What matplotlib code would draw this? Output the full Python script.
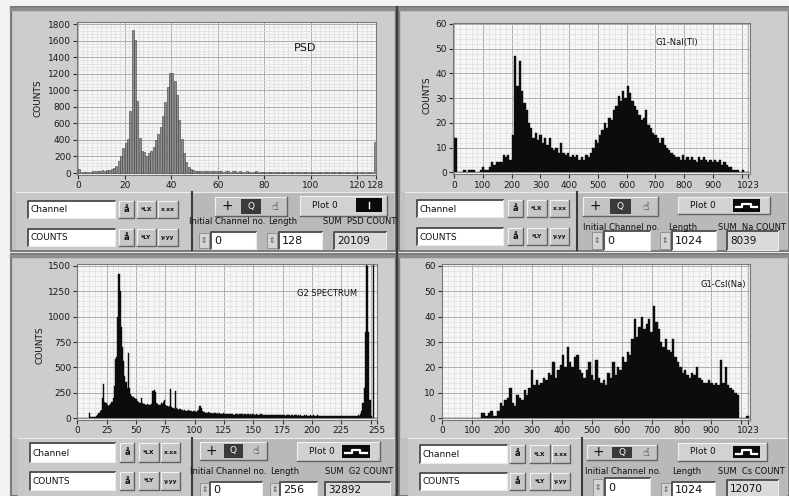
import numpy as np
import matplotlib.pyplot as plt
from matplotlib.patches import Rectangle
from matplotlib.ticker import MultipleLocator

# ----------------------------
# DATA
# ----------------------------
# PSD histogram, one value per channel (128 channels)
psd_counts = [
    45, 15, 12, 15, 18, 15, 22, 25, 28, 25, 35, 30, 38, 40, 45, 60,
    85, 150, 200, 300, 360, 410, 750, 1730, 1610, 870, 420, 260, 255, 200, 240, 260,
    320, 400, 470, 560, 690, 860, 1040, 1210, 1210, 1110, 940, 640, 410, 240, 130, 75,
    45, 35, 30, 28, 25, 26, 22, 25, 20, 24, 22, 20, 22, 20, 18, 22,
    20, 18, 20, 22, 18, 20, 17, 18, 20, 16, 18, 17, 20, 18, 15, 17,
    18, 16, 15, 18, 16, 15, 17, 15, 16, 14, 16, 15, 14, 16, 15, 13,
    15, 14, 16, 15, 14, 13, 15, 14, 13, 15, 14, 13, 14, 15, 13, 14,
    13, 15, 12, 14, 13, 14, 12, 13, 14, 13, 12, 14, 13, 12, 13, 370,
]

# G2 spectrum, one value per channel (256 channels)
g2_counts = [
    0, 0, 0, 0, 0, 0, 0, 0, 2, 3, 50, 10, 8, 10, 12, 15,
    20, 30, 55, 70, 80, 200, 340, 160, 150, 130, 120, 135, 140, 160, 200, 320,
    580, 600, 1000, 1420, 1250, 900, 700, 560, 420, 360, 300, 640, 300, 240, 220, 210,
    200, 190, 185, 170, 160, 150, 200, 150, 145, 140, 135, 140, 130, 135, 130, 140,
    270, 280, 260, 150, 140, 130, 135, 150, 140, 160, 180, 130, 120, 110, 120, 290,
    110, 100, 95, 270, 100, 90, 85, 90, 80, 85, 75, 80, 75, 70, 80, 70,
    75, 70, 65, 70, 65, 60, 70, 80, 120, 100, 70, 65, 60, 55, 55, 60,
    50, 55, 50, 45, 50, 55, 45, 50, 45, 50, 40, 45, 50, 40, 45, 40,
    45, 40, 40, 45, 40, 35, 40, 45, 40, 35, 40, 45, 40, 35, 40, 45,
    35, 40, 35, 40, 35, 40, 45, 35, 40, 35, 30, 35, 40, 30, 35, 30,
    35, 30, 35, 30, 35, 30, 30, 35, 30, 35, 30, 35, 30, 30, 35, 30,
    30, 25, 30, 35, 30, 25, 30, 30, 25, 30, 30, 25, 30, 25, 30, 25,
    25, 30, 25, 30, 25, 25, 30, 25, 25, 30, 25, 25, 30, 25, 25, 20,
    25, 25, 25, 20, 25, 25, 20, 25, 25, 20, 25, 20, 25, 20, 25, 25,
    20, 20, 25, 20, 25, 25, 20, 25, 20, 25, 20, 20, 25, 20, 25, 30,
    25, 40, 70, 150, 300, 850, 1550, 1500, 850, 180, 20, 5, 1600, 0, 0, 0,
]

# G1 spectra, 1024 channels read as 8-channel bins
bin_width = 8
nai_counts = [
    14, 0, 0, 0, 1, 0, 1, 1, 1, 0, 0, 1, 2, 1, 1, 2,
    4, 3, 4, 4, 4, 7, 6, 7, 5, 15, 47, 35, 45, 33, 28, 25,
    20, 18, 14, 16, 13, 15, 12, 14, 11, 14, 10, 9, 10, 8, 12, 8,
    7, 8, 6, 7, 6, 7, 5, 6, 5, 7, 6, 8, 10, 13, 12, 15,
    17, 20, 18, 22, 21, 25, 27, 31, 29, 33, 30, 35, 32, 29, 27, 25,
    23, 21, 22, 25, 19, 18, 16, 15, 14, 12, 14, 11, 10, 9, 8, 7,
    6, 6, 5, 7, 5, 6, 5, 6, 5, 4, 6, 5, 6, 5, 4, 5,
    4, 5, 4, 5, 3, 4, 3, 2, 2, 1, 1, 1, 0, 1, 0, 0,
]
csi_counts = [
    0, 0, 0, 0, 0, 0, 0, 0, 0, 0, 0, 0, 0, 0, 0, 0,
    2, 2, 1, 2, 3, 1, 1, 3, 6, 5, 7, 8, 12, 6, 5, 9,
    8, 7, 11, 9, 12, 19, 13, 15, 13, 14, 16, 15, 18, 17, 22, 16,
    19, 21, 25, 20, 28, 22, 20, 24, 25, 19, 18, 16, 19, 22, 17, 15,
    23, 16, 14, 15, 13, 18, 16, 22, 17, 20, 19, 24, 22, 26, 25, 31,
    39, 32, 36, 40, 35, 37, 39, 34, 44, 38, 35, 30, 28, 31, 27, 26,
    31, 24, 22, 20, 18, 19, 17, 16, 18, 17, 20, 16, 15, 14, 14, 15,
    14, 13, 14, 13, 23, 14, 20, 13, 12, 11, 10, 9, 0, 0, 0, 1,
]

plot_titles = ["PSD", "G1-NaI(Tl)", "G2 SPECTRUM", "G1-CsI(Na)"]
sum_names = ["SUM  PSD COUNT", "SUM  Na COUNT", "SUM  G2 COUNT", "SUM  Cs COUNT"]
sum_values = ["20109", "8039", "32892", "12070"]
length_values = ["128", "1024", "256", "1024"]
initial_values = ["0", "0", "0", "0"]

# ----------------------------
# CANVAS (pixel coordinates)
# ----------------------------
W, H = 789, 496
fig = plt.figure(figsize=(W / 100, H / 100), dpi=100)
fig.patch.set_facecolor('#f3f3f3')
bg = fig.add_axes([0, 0, 1, 1])
bg.set_xlim(0, W)
bg.set_ylim(H, 0)
bg.axis('off')


def rect(x0, y0, x1, y1, fc, ec='none', lw=0, z=1):
    bg.add_patch(Rectangle((x0, y0), x1 - x0, y1 - y0, facecolor=fc,
                           edgecolor=ec, linewidth=lw, zorder=z))


def sunken(x0, y0, x1, y1, fc='white'):
    rect(x0, y0, x1, y1, fc, z=3)
    bg.plot([x0, x0, x1], [y1, y0, y0], color='#4a4a4a', lw=1.3, zorder=4)
    bg.plot([x0, x1, x1], [y1, y1, y0], color='#ececec', lw=0.8, zorder=4)


def raised(x0, y0, x1, y1, fc='#c6c6c6'):
    rect(x0, y0, x1, y1, fc, z=3)
    bg.plot([x0, x0, x1], [y1, y0, y0], color='#f2f2f2', lw=0.8, zorder=4)
    bg.plot([x0, x1, x1], [y1, y1, y0], color='#626262', lw=1.0, zorder=4)


def txt(x, y, s, size=6.5, ha='left', color='#111111', **kw):
    bg.text(x, y, s, fontsize=size, ha=ha, va='center', color=color, zorder=6, **kw)


# panels
panel_boxes = [(11, 7, 396, 251), (399, 7, 789, 251), (11, 254, 396, 496), (399, 254, 789, 496)]
graph_areas = [(13, 11, 394, 192), (401, 11, 787, 192), (13, 257, 394, 438), (401, 257, 787, 438)]
for (x0, y0, x1, y1), (gx0, gy0, gx1, gy1) in zip(panel_boxes, graph_areas):
    rect(x0, y0, x1, y1, '#c2c2c2', ec='#7c7c7c', lw=1.5)
    rect(gx0, gy0, gx1, gy1, '#cdcdcd', z=1.5)
    bg.plot([x0, x1], [y0 + 2, y0 + 2], color='#8e8e8e', lw=2.5, zorder=2)
bg.plot([397.5, 397.5], [7, 496], color='#3c3c3c', lw=1.6, zorder=5)

controls = [
    dict(chan=(28, 201, 115, 218), cnt=(28, 229, 115, 246), btn=[(119, 134), (137, 156), (158, 178)],
         div=192, cy=(192, 250), right=394, tool=(215, 197, 287, 216), leg=(300, 196, 387, 216),
         sw=(356, 198, 382, 212), laby=222, labx=(189, 268, 323), spin1=199, box1=(211, 232, 256, 249),
         spin2=267, box2=(279, 232, 322, 249), box3=(334, 232, 386, 249)),
    dict(chan=(417, 200, 503, 217), cnt=(417, 228, 503, 245), btn=[(508, 523), (527, 547), (550, 569)],
         div=577, cy=(192, 250), right=787, tool=(583, 197, 658, 216), leg=(678, 197, 770, 214),
         sw=(733, 199, 760, 212), laby=227, labx=(583, 668, 718), spin1=592, box1=(604, 231, 650, 250),
         spin2=660, box2=(672, 231, 716, 250), box3=(727, 231, 778, 250)),
    dict(chan=(30, 443, 115, 462), cnt=(30, 472, 115, 490), btn=[(120, 134), (139, 159), (161, 180)],
         div=192, cy=(438, 496), right=394, tool=(200, 442, 267, 460), leg=(297, 442, 380, 461),
         sw=(342, 445, 370, 458), laby=472, labx=(190, 270, 325), spin1=200, box1=(210, 482, 262, 497),
         spin2=270, box2=(280, 482, 317, 497), box3=(325, 482, 390, 497)),
    dict(chan=(420, 445, 507, 463), cnt=(420, 473, 507, 490), btn=[(510, 525), (530, 550), (552, 570)],
         div=582, cy=(438, 496), right=787, tool=(587, 445, 657, 460), leg=(678, 443, 767, 461),
         sw=(733, 446, 760, 458), laby=471, labx=(585, 672, 718), spin1=593, box1=(605, 478, 650, 497),
         spin2=661, box2=(672, 482, 715, 497), box3=(727, 480, 778, 497)),
]

for i, c in enumerate(controls):
    cy0, cy1 = c['cy']
    rect(c['chan'][0] - 12, cy0, c['div'], cy1, '#c8c8c8', z=2)
    rect(c['div'], cy0, c['right'], cy1, '#b9b9b9', z=2)
    bg.plot([c['chan'][0] - 12, c['right']], [cy0, cy0], color='#ececec', lw=0.8, zorder=2.5)
    bg.plot([c['div'], c['div']], [cy0, cy1], color='#3a3a3a', lw=1.5, zorder=5)

    # axis name boxes and their buttons
    for box, glyphs in [(c['chan'], ['å', '*LX', 'x.xx']), (c['cnt'], ['å', '*LY', 'y.yy'])]:
        sunken(*box)
        txt(box[0] + 3, (box[1] + box[3]) / 2 + 0.5, 'Channel' if box is c['chan'] else 'COUNTS')
        for (bx0, bx1), g in zip(c['btn'], glyphs):
            raised(bx0, box[1], bx1, box[3])
            txt((bx0 + bx1) / 2, (box[1] + box[3]) / 2, g, size=6 if g == 'å' else 4.3,
                ha='center', fontweight='bold')

    # graph palette
    tx0, ty0, tx1, ty1 = c['tool']
    raised(tx0, ty0, tx1, ty1, '#c4c4c4')
    tw = (tx1 - tx0) / 3
    txt(tx0 + tw / 2, (ty0 + ty1) / 2, '+', size=10, ha='center')
    rect(tx0 + tw + 2, ty0 + 2, tx0 + 2 * tw - 2, ty1 - 2, '#3a3a3a', z=5)
    txt(tx0 + 1.5 * tw, (ty0 + ty1) / 2, 'Q', size=6.5, ha='center', color='white')
    txt(tx0 + 2.5 * tw, (ty0 + ty1) / 2, '☝', size=8, ha='center')

    # plot legend
    lx0, ly0, lx1, ly1 = c['leg']
    raised(lx0, ly0, lx1, ly1, '#d2d2d2')
    txt(lx0 + 12, (ly0 + ly1) / 2, 'Plot 0')
    sx0, sy0, sx1, sy1 = c['sw']
    rect(sx0, sy0, sx1, sy1, '#0a0a0a', z=5)
    sm = (sy0 + sy1) / 2
    sw_w = sx1 - sx0
    if i == 0:
        bg.plot([sx0 + sw_w / 2] * 2, [sm - 3, sm + 3], color='white', lw=1, zorder=6)
    else:
        bg.plot([sx0 + 3, sx0 + 0.35 * sw_w, sx0 + 0.35 * sw_w, sx0 + 0.65 * sw_w, sx0 + 0.65 * sw_w, sx1 - 3],
                [sm + 1.5, sm + 1.5, sm - 2, sm - 2, sm + 1.5, sm + 1.5], color='white', lw=1.6, zorder=6)

    # numeric controls
    txt(c['labx'][0], c['laby'], 'Initial Channel no.', size=6)
    txt(c['labx'][1], c['laby'], 'Length', size=6)
    txt(c['labx'][2], c['laby'], sum_names[i], size=6)
    for sx, box, val in [(c['spin1'], c['box1'], initial_values[i]), (c['spin2'], c['box2'], length_values[i])]:
        rect(sx, box[1] + 1, sx + 10, box[3] - 1, '#d4d4d4', ec='#8a8a8a', lw=0.6, z=3)
        txt(sx + 5, (box[1] + box[3]) / 2, '⇕', size=5.5, ha='center', color='#555555')
        sunken(*box)
        txt(box[0] + 3, (box[1] + box[3]) / 2 + 0.5, val, size=8)
    sunken(*c['box3'], fc='#dadada')
    txt(c['box3'][0] + 3, (c['box3'][1] + c['box3'][3]) / 2 + 0.5, sum_values[i], size=7.5)


# ----------------------------
# GRAPHS
# ----------------------------
def graph(x0, y0, x1, y1):
    return fig.add_axes([x0 / W, 1 - y1 / H, (x1 - x0) / W, (y1 - y0) / H])


def style(ax, xlim, ylim, xticks, xlabels, ymajor, xminor, yminor):
    ax.set_facecolor('#f6f6f6')
    ax.set_xlim(*xlim)
    ax.set_ylim(*ylim)
    ax.set_xticks(xticks)
    ax.set_xticklabels(xlabels)
    ax.yaxis.set_major_locator(MultipleLocator(ymajor))
    ax.xaxis.set_minor_locator(MultipleLocator(xminor))
    ax.yaxis.set_minor_locator(MultipleLocator(yminor))
    ax.grid(which='minor', color='#dedede', lw=0.5)
    ax.grid(which='major', color='#adadad', lw=0.7)
    ax.set_axisbelow(True)
    ax.tick_params(which='major', direction='out', length=3, width=0.8, color='#303030',
                   labelsize=6.5, pad=1.5, labelcolor='#1a1a1a')
    ax.tick_params(which='minor', length=0)
    for s in ax.spines.values():
        s.set_color('#777777')
        s.set_linewidth(0.8)


# PSD
ax = graph(77.3, 21.7, 376.0, 174.5)
ax.bar(np.arange(len(psd_counts)) + 0.1, psd_counts, width=0.8, align='edge',
       color='#8e8e8e', edgecolor='#3e3e3e', linewidth=0.4)
style(ax, (-0.3, 128), (-18, 1828), [0, 20, 40, 60, 80, 100, 120, 128],
      ['0', '20', '40', '60', '80', '100', '120', '128'], 200, 2, 40)

# G1 NaI(Tl)
ax = graph(453.4, 22.7, 750.3, 174.3)
ax.bar(np.arange(len(nai_counts)) * bin_width, nai_counts, width=bin_width, align='edge',
       color='#0c0c0c', edgecolor='#0c0c0c', linewidth=0.3)
k_ticks = [0, 100, 200, 300, 400, 500, 600, 700, 800, 900, 1000, 1023]
k_labels = ['0', '100', '200', '300', '400', '500', '600', '700', '800', '900', '', '1023']
style(ax, (-3, 1030), (-0.8, 60.5), k_ticks, k_labels, 10, 20, 2)

# G2 spectrum
ax = graph(77.3, 264.0, 377.1, 420.0)
ax.bar(np.arange(len(g2_counts)), g2_counts, width=1, align='edge',
       color='#0c0c0c', edgecolor='#0c0c0c', linewidth=0.3)
style(ax, (0, 255.5), (-17, 1517), [0, 25, 50, 75, 100, 125, 150, 175, 200, 225, 250, 255],
      ['0', '25', '50', '75', '100', '125', '150', '175', '200', '225', '', '255'], 250, 5, 50)

# G1 CsI(Na)
ax = graph(441.7, 264.0, 750.0, 420.0)
ax.bar(np.arange(len(csi_counts)) * bin_width, csi_counts, width=bin_width, align='edge',
       color='#0c0c0c', edgecolor='#0c0c0c', linewidth=0.3)
style(ax, (-2, 1029), (-0.67, 60.67), k_ticks, k_labels, 10, 20, 2)

# axis names and plot captions (drawn on top of the graphs)
for (x, y) in [(38, 98), (427, 95), (40, 345)]:
    fig.text(x / W, 1 - y / H, 'COUNTS', rotation=90, fontsize=6.5, ha='center', va='center', color='#111111')
caption_pos = [(305, 48, 8), (677, 42, 6), (327, 293, 6), (723, 284, 6)]
for (x, y, s), t in zip(caption_pos, plot_titles):
    fig.text(x / W, 1 - y / H, t, fontsize=s, ha='center', va='center', color='#111111')

fig.savefig('out.png', dpi=100, facecolor=fig.get_facecolor())
